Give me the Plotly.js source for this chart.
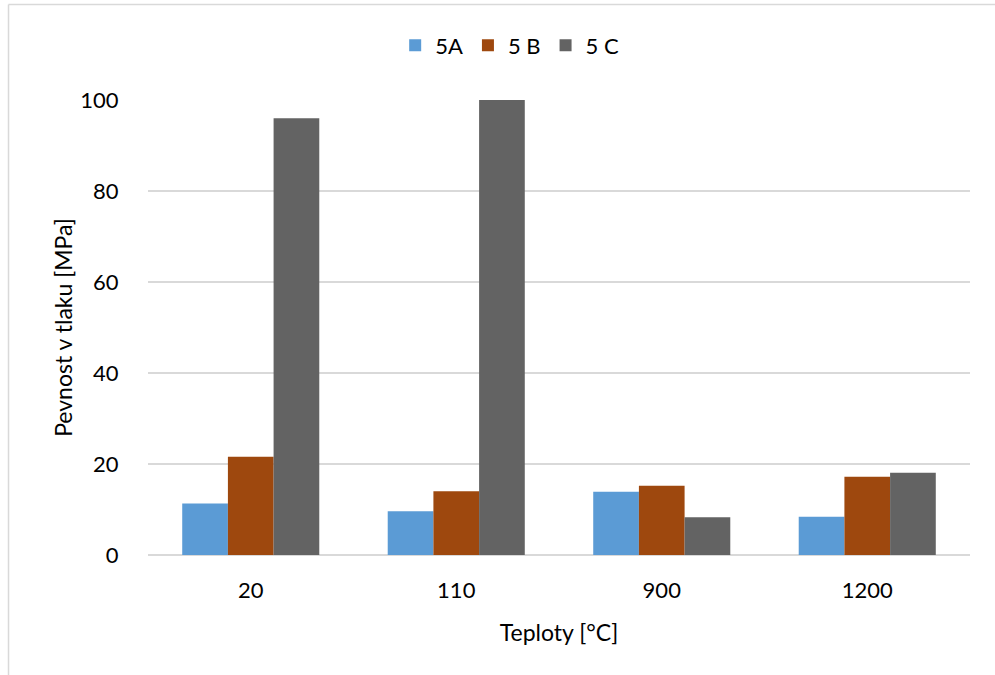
<!DOCTYPE html>
<html>
<head>
<meta charset="utf-8">
<script src="https://cdn.plot.ly/plotly-3.0.1.min.js"></script>
<style>
html,body{margin:0;padding:0;background:#fff;}
#chart{width:995px;height:675px;}
</style>
</head>
<body>
<div id="chart"></div>
<script>
const categories = ["20", "110", "900", "1200"];
const seriesNames = ["5A", "5 B", "5 C"];
const values5A = [11.3, 9.6, 13.9, 8.4];
const values5B = [21.6, 14.0, 15.2, 17.2];
const values5C = [96.0, 100.5, 8.3, 18.1];
const colors = ["#5B9BD5", "#9E480E", "#636363"];
const yTicks = [0, 20, 40, 60, 80, 100];

const font = "Lato, 'Open Sans', sans-serif";
const allValues = [values5A, values5B, values5C];
const data = allValues.map((v, i) => ({
  type: "bar",
  name: seriesNames[i],
  x: categories,
  y: v,
  marker: {color: colors[i], line: {width: 0}},
  cliponaxis: true
}));

const layout = {
  width: 995, height: 675,
  margin: {l: 148, r: 25, t: 100, b: 120, autoexpand: false},
  paper_bgcolor: "#fff", plot_bgcolor: "#fff",
  font: {family: font, size: 22, color: "#000"},
  barmode: "group",
  bargap: 0.333, bargroupgap: 0,
  showlegend: true,
  legend: {orientation: "h", x: 0.44, xanchor: "center", y: 1.12, yanchor: "middle",
           font: {family: font, size: 22, color: "#000"}, itemwidth: 30, tracegroupgap: 0},
  xaxis: {
    type: "category",
    showgrid: false, zeroline: false, showline: false,
    ticks: "outside", ticklen: 16, tickcolor: "rgba(0,0,0,0)",
    tickfont: {family: font, size: 22, color: "#000"},
    title: {text: "Teploty [°C]", font: {family: font, size: 23, color: "#000"}, standoff: 22}
  },
  yaxis: {
    range: [0, 100],
    tickvals: yTicks, ticktext: yTicks.map(String),
    showgrid: true, gridcolor: "#D9D9D9", gridwidth: 1.5,
    zeroline: true, zerolinecolor: "#D9D9D9", zerolinewidth: 1.5,
    showline: false,
    ticks: "outside", ticklen: 24, tickcolor: "rgba(0,0,0,0)",
    tickfont: {family: font, size: 22, color: "#000"},
    title: {text: "Pevnost v tlaku [MPa]", font: {family: font, size: 23, color: "#000"}, standoff: 1}
  },
  shapes: [
    {type: "line", xref: "paper", yref: "paper", x0: -0.1697, x1: -0.1697, y0: -0.27, y1: 1.21,
     line: {color: "#D9D9D9", width: 1.5}},
    {type: "line", xref: "paper", yref: "paper", x0: -0.1697, x1: 1.04, y0: 1.21, y1: 1.21,
     line: {color: "#D9D9D9", width: 1.5}}
  ]
};

Plotly.newPlot("chart", data, layout, {displayModeBar: false, staticPlot: true});
</script>
</body>
</html>
